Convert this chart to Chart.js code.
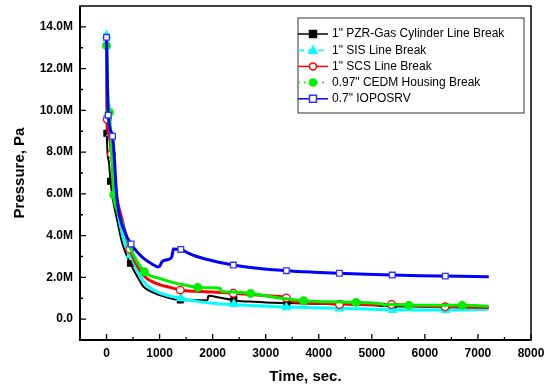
<!DOCTYPE html>
<html>
<head>
<meta charset="utf-8">
<script src="https://cdn.jsdelivr.net/npm/chart.js@4.4.0/dist/chart.umd.min.js"></script>
<style>
  html, body { margin: 0; padding: 0; background: #fff; }
  .chart-box { width: 550px; height: 389px; position: relative; }
</style>
</head>
<body>
<div class="chart-box"><canvas id="pressure-chart"></canvas></div>
<script>
// series names, as in the legend
const seriesNames = [
  '1" PZR-Gas Cylinder Line Break',
  '1" SIS Line Break',
  '1" SCS Line Break',
  '0.97" CEDM Housing Break',
  '0.7" IOPOSRV',
];

// axis ticks
const xTickValues = [0, 1000, 2000, 3000, 4000, 5000, 6000, 7000, 8000];
const xTickLabels = ['0', '1000', '2000', '3000', '4000', '5000', '6000', '7000', '8000'];
const yTickValues = [0, 2, 4, 6, 8, 10, 12, 14];
const yTickLabels = ['0.0', '2.0M', '4.0M', '6.0M', '8.0M', '10.0M', '12.0M', '14.0M'];

// pressure in MPa, time in s
const pzrTime = [0, 5, 40, 75, 130, 200, 300, 450, 600, 700, 850, 1000, 1200, 1390, 1600, 1900, 1920, 2150, 2380, 2400, 2450, 2700, 3000, 3400, 3900, 4400, 5000, 5400, 6000, 6400, 7200];
const pzrPres = [13.5, 8.9, 7.6, 6.6, 5.6, 4.75, 3.6, 2.67, 1.95, 1.55, 1.3, 1.15, 1.0, 0.91, 0.9, 0.9, 1.12, 1.02, 0.93, 1.06, 0.88, 0.84, 0.8, 0.77, 0.74, 0.72, 0.66, 0.62, 0.59, 0.57, 0.55];
const pzrMarkTime = [5, 75, 450, 1390, 2400, 3400, 4400, 5400, 6400];
const pzrMarkPres = [8.9, 6.6, 2.67, 0.91, 0.95, 0.77, 0.72, 0.62, 0.57];

const sisTime = [0, 15, 80, 150, 250, 390, 450, 550, 700, 950, 1200, 1390, 1700, 2000, 2400, 2800, 3390, 3900, 4390, 4900, 5390, 5900, 6390, 6800, 7200];
const sisPres = [13.6, 9.8, 8.9, 6.5, 4.6, 3.3, 3.07, 2.5, 1.8, 1.31, 1.1, 1.0, 0.85, 0.76, 0.7, 0.64, 0.58, 0.54, 0.52, 0.48, 0.45, 0.44, 0.44, 0.45, 0.47];
const sisMarkTime = [0, 15, 80, 450, 1400, 2400, 3390, 4390, 5390, 6390];
const sisMarkPres = [13.6, 9.8, 8.9, 3.07, 1.0, 0.72, 0.56, 0.51, 0.43, 0.43];

const scsTime = [0, 13, 50, 94, 180, 295, 440, 700, 1000, 1200, 1390, 1700, 2000, 2390, 2700, 3000, 3390, 3500, 3900, 4390, 4900, 5370, 5900, 6380, 7200];
const scsPres = [13.5, 9.57, 8.8, 7.9, 6.0, 4.75, 3.35, 2.1, 1.65, 1.52, 1.39, 1.33, 1.3, 1.25, 1.18, 1.12, 1.04, 0.85, 0.78, 0.72, 0.7, 0.7, 0.63, 0.6, 0.56];
const scsMarkTime = [13, 94, 440, 1390, 2390, 3390, 4390, 5370, 6380];
const scsMarkPres = [9.57, 7.9, 3.35, 1.39, 1.24, 1.02, 0.7, 0.7, 0.59];

const cedmTime = [0, 20, 56, 137, 200, 295, 450, 713, 1000, 1263, 1500, 1720, 2000, 2140, 2160, 2400, 2715, 3000, 3300, 3715, 4200, 4703, 5200, 5235, 5300, 5698, 6200, 6703, 7200];
const cedmPres = [13.1, 11.0, 9.9, 5.95, 5.2, 4.6, 3.4, 2.27, 1.95, 1.75, 1.62, 1.52, 1.5, 1.48, 1.33, 1.3, 1.23, 1.12, 1.0, 0.88, 0.83, 0.8, 0.72, 0.66, 0.7, 0.67, 0.66, 0.66, 0.62];
const cedmMarkTime = [0, 56, 137, 713, 1720, 2715, 3715, 4703, 5698, 6703];
const cedmMarkPres = [13.1, 9.9, 5.95, 2.27, 1.52, 1.23, 0.88, 0.8, 0.66, 0.66];

const iopTime = [0, 32, 113, 200, 356, 463, 600, 700, 850, 975, 1000, 1045, 1100, 1200, 1232, 1260, 1400, 1550, 1700, 2000, 2390, 2800, 3390, 3900, 4390, 4900, 5385, 5900, 6385, 7205];
const iopPres = [13.5, 9.77, 8.76, 5.7, 4.1, 3.6, 3.15, 2.91, 2.65, 2.5, 2.52, 2.75, 2.82, 2.9, 3.0, 3.36, 3.34, 3.15, 3.0, 2.8, 2.59, 2.45, 2.32, 2.25, 2.2, 2.15, 2.11, 2.08, 2.06, 2.03];
const iopMarkTime = [0, 32, 113, 463, 1400, 2390, 3390, 4390, 5385, 6385];
const iopMarkPres = [13.5, 9.77, 8.76, 3.6, 3.34, 2.59, 2.32, 2.2, 2.11, 2.06];

const toPoints = (t, p) => t.map((x, i) => ({ x: x, y: p[i] }));

const styles = [
  { color: '#000000', fill: '#000000', point: 'rect', width: 2, dash: [] },
  { color: '#00ffff', fill: '#00ffff', point: 'triangle', width: 3, dash: [6, 4] },
  { color: '#ff0000', fill: '#ffffff', point: 'circle', width: 3, dash: [] },
  { color: '#00ee00', fill: '#00ee00', point: 'circle', width: 3, dash: [2, 4] },
  { color: '#0000ff', fill: '#ffffff', point: 'rect', width: 3, dash: [] },
];

const lines = [
  toPoints(pzrTime, pzrPres),
  toPoints(sisTime, sisPres),
  toPoints(scsTime, scsPres),
  toPoints(cedmTime, cedmPres),
  toPoints(iopTime, iopPres),
];
const marks = [
  toPoints(pzrMarkTime, pzrMarkPres),
  toPoints(sisMarkTime, sisMarkPres),
  toPoints(scsMarkTime, scsMarkPres),
  toPoints(cedmMarkTime, cedmMarkPres),
  toPoints(iopMarkTime, iopMarkPres),
];

const markerEdge = (s) => s.color === '#0000ff' ? '#3333ff' : s.color;

const datasets = [];
seriesNames.forEach((name, i) => {
  const s = styles[i];
  datasets.push({
    label: name,
    data: lines[i],
    showLine: true,
    borderColor: s.color,
    borderWidth: s.width,
    pointRadius: 0,
    cubicInterpolationMode: 'monotone',
    order: 10 - 2 * i,
  });
  datasets.push({
    label: name + ' markers',
    data: marks[i],
    showLine: false,
    pointStyle: s.point,
    pointRadius: s.point === 'rect' ? 4 : (s.point === 'triangle' ? 4.5 : 3.8),
    pointBackgroundColor: s.fill,
    pointBorderColor: markerEdge(s),
    pointBorderWidth: 1.3,
    order: 9 - 2 * i,
  });
});

// frame, inward ticks and legend
const framePlugin = {
  id: 'frame',
  afterDraw(chart) {
    const { ctx, chartArea: a, scales: { x, y } } = chart;
    ctx.save();
    ctx.strokeStyle = '#000';
    ctx.lineWidth = 1.5;
    ctx.strokeRect(a.left, a.top, a.right - a.left, a.bottom - a.top);
    ctx.lineWidth = 2;
    ctx.beginPath();
    ctx.moveTo(a.left, a.top); ctx.lineTo(a.left, a.bottom); ctx.lineTo(a.right, a.bottom);
    ctx.stroke();

    ctx.lineWidth = 1.3;
    ctx.beginPath();
    xTickValues.forEach((v, i) => {
      const px = x.getPixelForValue(v);
      ctx.moveTo(px, a.bottom); ctx.lineTo(px, a.bottom - 6);
      if (i < xTickValues.length - 1) {
        const mx = x.getPixelForValue(v + 500);
        ctx.moveTo(mx, a.bottom); ctx.lineTo(mx, a.bottom - 3);
      }
    });
    yTickValues.forEach((v, i) => {
      const py = y.getPixelForValue(v);
      ctx.moveTo(a.left, py); ctx.lineTo(a.left + 6, py);
      if (i < yTickValues.length - 1) {
        const my = y.getPixelForValue(v + 1);
        ctx.moveTo(a.left, my); ctx.lineTo(a.left + 3, my);
      }
    });
    ctx.stroke();

    // legend
    const lx = a.right - 233, ly = a.top + 12, lw = 226, lh = 95;
    ctx.lineWidth = 1;
    ctx.strokeStyle = '#333';
    ctx.strokeRect(lx, ly, lw, lh);
    ctx.font = '12px "Liberation Sans", Arial, sans-serif';
    ctx.textBaseline = 'middle';
    seriesNames.forEach((name, i) => {
      const s = styles[i];
      const rowY = ly + 16 + i * 16.2;
      ctx.strokeStyle = s.color;
      ctx.lineWidth = 1.5;
      ctx.setLineDash(s.dash);
      ctx.beginPath();
      ctx.moveTo(lx, rowY); ctx.lineTo(lx + 30, rowY);
      ctx.stroke();
      ctx.setLineDash([]);
      ctx.fillStyle = s.fill;
      ctx.strokeStyle = markerEdge(s);
      ctx.beginPath();
      if (s.point === 'rect') ctx.rect(lx + 11.5, rowY - 3.5, 7, 7);
      else if (s.point === 'circle') ctx.arc(lx + 15, rowY, 3.5, 0, Math.PI * 2);
      else { ctx.moveTo(lx + 15, rowY - 4); ctx.lineTo(lx + 19, rowY + 3); ctx.lineTo(lx + 11, rowY + 3); ctx.closePath(); }
      ctx.fill();
      ctx.stroke();
      ctx.fillStyle = '#000';
      ctx.fillText(name, lx + 34, rowY);
    });
    ctx.restore();
  }
};

const boldTick = { family: '"Liberation Sans", Arial, sans-serif', size: 12, weight: 'bold' };
const boldTitle = { family: '"Liberation Sans", Arial, sans-serif', size: 15, weight: 'bold' };

new Chart(document.getElementById('pressure-chart').getContext('2d'), {
  type: 'scatter',
  data: { datasets: datasets },
  options: {
    responsive: true,
    maintainAspectRatio: false,
    animation: false,
    layout: { padding: { top: 6, right: 19, left: 0, bottom: 0 } },
    plugins: {
      legend: { display: false },
      tooltip: { enabled: false },
    },
    scales: {
      x: {
        type: 'linear',
        min: -500,
        max: 8000,
        afterBuildTicks: (s) => { s.ticks = xTickValues.map(v => ({ value: v })); },
        afterFit: (s) => { s.height = 49; s.paddingLeft = 0; s.paddingRight = 0; },
        grid: { display: false, drawTicks: false },
        border: { display: false },
        ticks: {
          autoSkip: false,
          maxRotation: 0,
          padding: 6,
          color: '#000',
          font: boldTick,
          callback: (v, i) => xTickLabels[i],
        },
        title: {
          display: true,
          text: 'Time, sec.',
          color: '#000',
          font: boldTitle,
          padding: { top: 0, bottom: 3 },
        },
      },
      y: {
        min: -1,
        max: 15,
        afterBuildTicks: (s) => { s.ticks = yTickValues.map(v => ({ value: v })); },
        afterFit: (s) => { s.width = 80; s.paddingTop = 0; s.paddingBottom = 0; },
        grid: { display: false, drawTicks: false },
        border: { display: false },
        ticks: {
          autoSkip: false,
          padding: 7,
          color: '#000',
          font: boldTick,
          callback: (v, i) => yTickLabels[i],
        },
        title: {
          display: true,
          text: 'Pressure, Pa',
          color: '#000',
          font: boldTitle,
          padding: { top: 11, bottom: 0 },
        },
      },
    },
  },
  plugins: [framePlugin],
});
</script>
</body>
</html>
